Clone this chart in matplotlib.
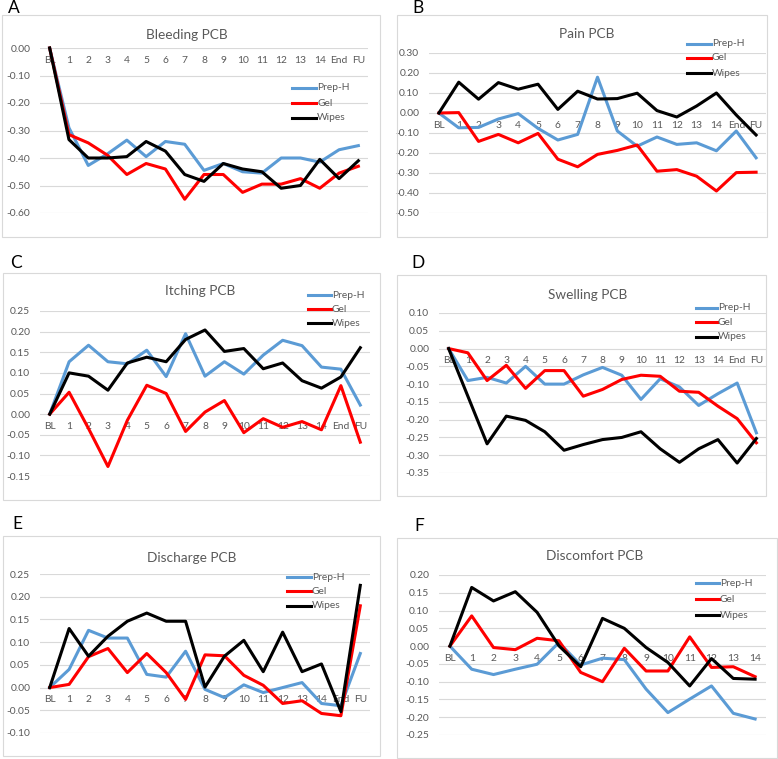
import matplotlib
matplotlib.use("Agg")
import matplotlib.pyplot as plt
from matplotlib.lines import Line2D
from matplotlib.patches import Rectangle

plt.rcParams['font.family'] = ['Lato', 'DejaVu Sans']

cats_full = ["BL", "1", "2", "3", "4", "5", "6", "7", "8", "9", "10", "11", "12", "13", "14", "End", "FU"]
cats_short = ["BL", "1", "2", "3", "4", "5", "6", "7", "8", "9", "10", "11", "12", "13", "14"]
series_names = ["Prep-H", "Gel", "Wipes"]

bleeding_prep = [0, -0.29, -0.427, -0.385, -0.335, -0.395, -0.34, -0.35, -0.445, -0.42, -0.45, -0.455, -0.40, -0.40, -0.415, -0.37, -0.355]
bleeding_gel = [0, -0.315, -0.345, -0.39, -0.46, -0.42, -0.44, -0.55, -0.46, -0.46, -0.525, -0.495, -0.495, -0.475, -0.51, -0.455, -0.43]
bleeding_wipes = [0, -0.333, -0.40, -0.40, -0.395, -0.34, -0.375, -0.46, -0.485, -0.42, -0.44, -0.45, -0.51, -0.50, -0.405, -0.475, -0.41]

pain_prep = [0, -0.074, -0.072, -0.03, -0.003, -0.077, -0.135, -0.107, 0.179, -0.09, -0.166, -0.12, -0.157, -0.149, -0.189, -0.09, -0.224]
pain_gel = [0, 0.002, -0.142, -0.107, -0.149, -0.102, -0.231, -0.269, -0.207, -0.187, -0.16, -0.291, -0.283, -0.316, -0.39, -0.298, -0.296]
pain_wipes = [0, 0.154, 0.069, 0.152, 0.119, 0.144, 0.018, 0.109, 0.07, 0.072, 0.099, 0.012, -0.02, 0.035, 0.10, -0.01, -0.11]

itch_prep = [0, 0.127, 0.167, 0.127, 0.122, 0.155, 0.091, 0.195, 0.092, 0.127, 0.097, 0.143, 0.179, 0.166, 0.114, 0.109, 0.022]
itch_gel = [0, 0.053, -0.035, -0.127, -0.015, 0.07, 0.05, -0.042, 0.005, 0.033, -0.045, -0.011, -0.032, -0.018, -0.038, 0.069, -0.068]
itch_wipes = [0, 0.10, 0.092, 0.058, 0.124, 0.138, 0.127, 0.181, 0.204, 0.152, 0.159, 0.11, 0.124, 0.081, 0.063, 0.09, 0.161]

swell_prep = [0, -0.09, -0.081, -0.097, -0.05, -0.10, -0.10, -0.074, -0.053, -0.075, -0.143, -0.085, -0.108, -0.16, -0.127, -0.097, -0.237]
swell_gel = [0, -0.012, -0.09, -0.047, -0.112, -0.062, -0.062, -0.134, -0.115, -0.087, -0.075, -0.078, -0.12, -0.123, -0.162, -0.197, -0.265]
swell_wipes = [0, -0.134, -0.268, -0.19, -0.202, -0.234, -0.286, -0.27, -0.256, -0.25, -0.234, -0.282, -0.32, -0.282, -0.256, -0.322, -0.253]

disch_prep = [0, 0.04, 0.126, 0.109, 0.109, 0.029, 0.023, 0.08, -0.004, -0.022, 0.006, -0.011, 0.0, 0.011, -0.035, -0.04, 0.075]
disch_gel = [0, 0.007, 0.068, 0.086, 0.033, 0.075, 0.033, -0.026, 0.072, 0.07, 0.027, 0.005, -0.035, -0.029, -0.057, -0.062, 0.18]
disch_wipes = [0, 0.13, 0.069, 0.113, 0.146, 0.164, 0.146, 0.146, 0.001, 0.069, 0.104, 0.035, 0.122, 0.035, 0.052, -0.053, 0.225]

disc_prep = [0, -0.065, -0.08, -0.065, -0.051, 0.01, -0.053, -0.034, -0.038, -0.121, -0.187, -0.149, -0.112, -0.189, -0.205]
disc_gel = [0, 0.085, -0.004, -0.01, 0.022, 0.015, -0.074, -0.10, -0.006, -0.07, -0.07, 0.026, -0.06, -0.058, -0.086]
disc_wipes = [0, 0.165, 0.127, 0.153, 0.095, 0.001, -0.058, 0.078, 0.05, -0.004, -0.046, -0.112, -0.035, -0.091, -0.093]

W, H = 778, 759
fig = plt.figure(figsize=(W / 100, H / 100), dpi=100)

colors = ["#5B9BD5", "#FF0000", "#000000"]
grid_c = "#D9D9D9"
text_c = "#595959"

def fx(x):
    return x / W

def fy(y):
    return 1 - y / H

panels = [
    dict(letter="A", title="Bleeding PCB", cats=cats_full, data=[bleeding_prep, bleeding_gel, bleeding_wipes],
         plot=(40, 48, 368, 213), ylim=(-0.6, 0.0), step=0.1, border=(2, 15, 380, 237),
         letter_xy=(8, 8), title_xy=(187, 35), leg=(292, 316, [88, 103, 118])),
    dict(letter="B", title="Pain PCB", cats=cats_full, data=[pain_prep, pain_gel, pain_wipes],
         plot=(429, 53, 766, 213), ylim=(-0.5, 0.3), step=0.1, border=(397, 15, 767, 237),
         letter_xy=(412, 8), title_xy=(587, 34), leg=(687, 711, [44, 58, 73])),
    dict(letter="C", title="Itching PCB", cats=cats_full, data=[itch_prep, itch_gel, itch_wipes],
         plot=(40, 311, 370, 476), ylim=(-0.15, 0.25), step=0.05, border=(3, 273, 380, 500),
         letter_xy=(10, 263), title_xy=(200, 291), leg=(308, 331, [295, 309, 323])),
    dict(letter="D", title="Swelling PCB", cats=cats_full, data=[swell_prep, swell_gel, swell_wipes],
         plot=(439, 313, 766, 473), ylim=(-0.35, 0.10), step=0.05, border=(397, 275, 766, 496),
         letter_xy=(411, 263), title_xy=(588, 295), leg=(696, 717, [308, 322, 337])),
    dict(letter="E", title="Discharge PCB", cats=cats_full, data=[disch_prep, disch_gel, disch_wipes],
         plot=(40, 574, 370, 733), ylim=(-0.10, 0.25), step=0.05, border=(3, 536, 380, 756),
         letter_xy=(12, 524), title_xy=(192, 558), leg=(287, 311, [577, 591, 606])),
    dict(letter="F", title="Discomfort PCB", cats=cats_short, data=[disc_prep, disc_gel, disc_wipes],
         plot=(439, 575, 766, 735), ylim=(-0.25, 0.20), step=0.05, border=(397, 538, 777, 758),
         letter_xy=(414, 526), title_xy=(595, 556), leg=(696, 719, [583, 599, 615])),
]

for p in panels:
    bx0, by0, bx1, by1 = p["border"]
    fig.add_artist(Rectangle((fx(bx0), fy(by1)), (bx1 - bx0) / W, (by1 - by0) / H,
                             transform=fig.transFigure, fill=False, edgecolor=grid_c, lw=0.8))
    fig.text(fx(p["letter_xy"][0]), fy(p["letter_xy"][1]), p["letter"], fontsize=12.5,
             ha="left", va="center", color="black")
    fig.text(fx(p["title_xy"][0]), fy(p["title_xy"][1]), p["title"], fontsize=9.8,
             ha="center", va="center", color=text_c)

    x0, y0, x1, y1 = p["plot"]
    ax = fig.add_axes([fx(x0), fy(y1), (x1 - x0) / W, (y1 - y0) / H])
    n = len(p["cats"])
    xs = list(range(n))
    for vals, c, name in zip(p["data"], colors, series_names):
        ax.plot(xs, vals, color=c, lw=2.2, clip_on=False, zorder=3, solid_joinstyle="round")
    lo, hi = p["ylim"]
    ax.set_ylim(lo, hi)
    ax.set_xlim(-0.5, n - 0.5)
    nt = int(round((hi - lo) / p["step"]))
    ticks = [lo + i * p["step"] for i in range(nt + 1)]
    ax.set_yticks(ticks)
    ax.set_yticklabels([f"{t:.2f}" if abs(t) > 1e-9 else "0.00" for t in ticks])
    ax.set_xticks(xs)
    ax.set_xticklabels(p["cats"])
    ax.spines['bottom'].set_position(('data', 0))
    for s in ax.spines.values():
        s.set_visible(False)
    ax.grid(axis="y", color=grid_c, lw=0.8)
    ax.set_axisbelow(True)
    ax.tick_params(axis="both", length=0, labelsize=7.4, labelcolor=text_c)
    ax.tick_params(axis="y", pad=7)
    ax.tick_params(axis="x", pad=5.5)
    ax.patch.set_alpha(0)

    lx0, lx1, lys = p["leg"]
    for ly, c, name in zip(lys, colors, series_names):
        fig.add_artist(Line2D([fx(lx0), fx(lx1)], [fy(ly), fy(ly)], transform=fig.transFigure,
                              color=c, lw=2.2))
        fig.text(fx(lx1 + 1), fy(ly), name, fontsize=7.4, color=text_c, ha="left", va="center")

fig.savefig("out.png", dpi=100, facecolor="white")
